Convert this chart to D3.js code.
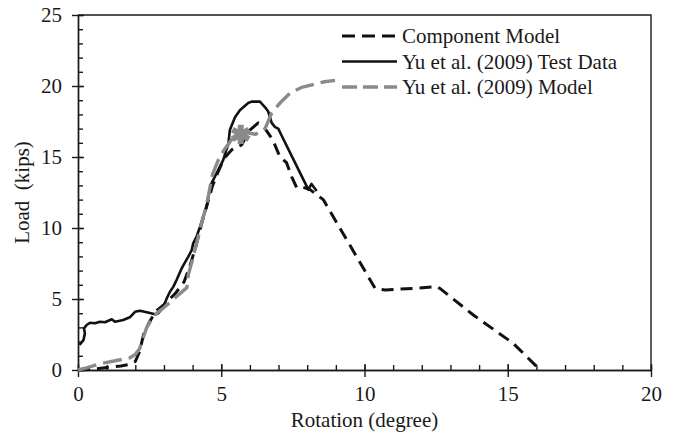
<!DOCTYPE html>
<html>
<head>
<meta charset="utf-8">
<script src="https://cdn.jsdelivr.net/npm/d3@7"></script>
<style>
    body { margin: 0; background: #ffffff; }
    svg text { font-family: 'Liberation Serif', 'Times New Roman', Times, serif; }
</style>
</head>
<body>
<div id="graph"></div>
<script>

// Component Model (black dashed)
var compRot  = [ 0, 0.5, 1.0, 1.5, 1.8, 2.0, 2.15, 2.3, 2.5, 2.7, 3.0, 3.4, 3.7, 3.9, 4.1, 4.3, 4.5, 4.7, 4.9, 5.1, 5.36, 5.71,
                 6.0, 6.29, 6.53, 6.8, 7.05, 7.28, 7.46, 7.63, 7.8, 8.1, 8.56, 10.37, 10.72, 11.7, 12.52, 12.63, 13.8, 15.19, 16.07, 16.13 ];
var compLoad = [ 0, 0.05, 0.17, 0.28, 0.4, 0.6, 1.3, 2.6, 3.4, 4.1, 4.6, 5.4, 6.2, 7.3, 8.6, 10.2, 11.6, 13.0, 14.0, 14.9, 15.5, 15.85,
                 16.9, 17.4, 17.0, 16.2, 15.0, 14.6, 13.6, 12.85, 12.9, 12.7, 12.0, 5.75, 5.63, 5.75, 5.87, 5.75, 3.87, 1.88, 0.12, 0 ];

// Yu et al. (2009) Test Data (black solid)
var testRot  = [ 0.05, 0.19, 0.24, 0.21, 0.3, 0.42, 0.59, 0.77, 0.94, 1.18, 1.29, 1.58, 1.81, 1.99, 2.16, 2.4, 2.69, 2.8, 2.98,
                 3.1, 3.21, 3.33, 3.44, 3.62, 3.68, 3.85, 3.97, 4.02, 4.14, 4.26, 4.37, 4.49, 4.55, 4.67, 4.9, 5.07, 5.25, 5.3,
                 5.48, 5.65, 5.94, 6.06, 6.35, 6.53, 6.64, 6.76, 6.88, 6.99, 7.11, 7.6, 8.04, 8.15, 8.33 ];
var testLoad = [ 1.76, 2.1, 2.58, 2.93, 3.17, 3.33, 3.29, 3.4, 3.36, 3.57, 3.4, 3.52, 3.71, 4.1, 4.18, 4.06, 3.92, 3.99, 4.46,
                 5.05, 5.51, 5.87, 6.34, 7.16, 7.39, 7.98, 8.45, 8.92, 9.39, 10.09, 10.8, 11.5, 12.2, 13.2, 14.1, 14.8, 15.96, 16.9,
                 17.8, 18.3, 18.8, 18.9, 18.9, 18.5, 18.2, 17.4, 17.1, 17.0, 16.5, 14.5, 12.7, 13.1, 12.6 ];

// Yu et al. (2009) Model (grey long dash)
var yuRot  = [ 0, 0.3, 0.8, 1.3, 1.8, 2.0, 2.15, 2.28, 2.4, 2.55, 2.75, 3.0, 3.4, 3.8, 3.85, 4.0, 4.15, 4.32, 4.49, 4.6, 4.7,
               4.9, 5.1, 5.35, 5.6, 5.9, 6.2, 6.53, 6.76, 7.05, 7.4, 7.8, 8.2, 8.6, 8.97 ];
var yuLoad = [ 0, 0.15, 0.45, 0.65, 0.85, 1.1, 1.5, 2.3, 3.0, 3.5, 4.0, 4.4, 5.1, 5.8, 6.7, 7.8, 9.0, 10.4, 11.6, 12.8, 13.8,
               14.8, 15.5, 16.2, 16.6, 16.7, 16.6, 17.0, 18.1, 18.8, 19.5, 19.9, 20.1, 20.3, 20.4 ];

// failure marker
var starRot  = [ 5.68 ];
var starLoad = [ 16.6 ];

var xTicks = [ 0, 5, 10, 15, 20 ];
var yTicks = [ 0, 5, 10, 15, 20, 25 ];

var seriesNames = [ 'Component Model', 'Yu et al. (2009) Test Data', 'Yu et al. (2009) Model' ];


function D3App ()
{
    var margin = { top: 15, right: 22, bottom: 74, left: 78 };

    var width  = 673 - margin.left - margin.right;
    var height = 444 - margin.top - margin.bottom;

    var grey = '#8a8a8a';
    var font = "'Liberation Serif', 'Times New Roman', Times, serif";

    var svg = d3.select ('#graph').append ('svg')
                .attr ('width', 673)
                .attr ('height', 444)
                .append ('g')
                .attr ('transform', 'translate(' + margin.left + ',' + margin.top + ')');

    var xScale = d3.scaleLinear ().domain ([ 0, 20 ]).range ([ 0, width ]);
    var yScale = d3.scaleLinear ().domain ([ 0, 25 ]).range ([ height, 0 ]);

    // minor ticks (inside)
    svg.append ('g')
       .attr ('class', 'axis')
       .attr ('transform', 'translate(0,' + height + ')')
       .call (d3.axisBottom (xScale).tickValues (d3.range (0, 21)).tickSize (-5).tickSizeOuter (0).tickFormat (''));

    svg.append ('g')
       .attr ('class', 'axis')
       .call (d3.axisLeft (yScale).tickValues (d3.range (0, 26)).tickSize (-5).tickSizeOuter (0).tickFormat (''));

    // major ticks, crossing the axis, with labels
    var xAxis = svg.append ('g')
       .attr ('class', 'axis')
       .attr ('transform', 'translate(0,' + height + ')')
       .call (d3.axisBottom (xScale).tickValues (xTicks).tickSize (7).tickSizeOuter (0).tickPadding (9));
    xAxis.selectAll ('.tick line').attr ('y1', -6);

    var yAxis = svg.append ('g')
       .attr ('class', 'axis')
       .call (d3.axisLeft (yScale).tickValues (yTicks).tickSize (6).tickSizeOuter (0).tickPadding (10));
    yAxis.selectAll ('.tick line').attr ('x1', 6);

    svg.selectAll ('.axis').attr ('font-family', font);

    svg.selectAll ('.axis text')
       .attr ('font-family', font)
       .attr ('font-size', '21px')
       .attr ('fill', '#1a1a1a');

    svg.selectAll ('.axis line, .axis path')
       .attr ('stroke', '#1a1a1a')
       .attr ('stroke-width', 1.4);

    // frame: top and right edges
    svg.append ('path')
       .attr ('d', 'M0,0H' + width + 'V' + height)
       .attr ('fill', 'none')
       .attr ('stroke', '#1a1a1a')
       .attr ('stroke-width', 1.4);

    // axis titles
    svg.append ('text')
       .attr ('x', width / 2)
       .attr ('y', height + 57)
       .attr ('text-anchor', 'middle')
       .attr ('font-family', font)
       .attr ('font-size', '21px')
       .attr ('fill', '#1a1a1a')
       .text ('Rotation (degree)');

    svg.append ('text')
       .attr ('transform', 'translate(' + (29 - margin.left) + ',' + (height / 2) + ') rotate(-90)')
       .attr ('text-anchor', 'middle')
       .attr ('font-family', font)
       .attr ('font-size', '21px')
       .attr ('fill', '#1a1a1a')
       .style ('white-space', 'pre')
       .text ('Load  (kips)');

    var line = d3.line ()
                 .x (function (d) { return xScale (d[0]); })
                 .y (function (d) { return yScale (d[1]); });

    var series = [
        { rot: compRot, load: compLoad, colour: '#111', width: 3,   dash: '12,7' },
        { rot: testRot, load: testLoad, colour: '#111', width: 2.6, dash: null },
        { rot: yuRot,   load: yuLoad,   colour: grey,   width: 3.4, dash: '19,7' }
    ];

    for (var i = 0; i < series.length; i++)
    {
        var s = series[i];
        var pts = s.rot.map (function (r, j) { return [ r, s.load[j] ]; });

        svg.append ('path')
           .datum (pts)
           .attr ('d', line)
           .attr ('fill', 'none')
           .attr ('stroke', s.colour)
           .attr ('stroke-width', s.width)
           .attr ('stroke-linejoin', 'round')
           .attr ('stroke-dasharray', s.dash);

        // legend
        var ly = 21 + i * 25.5;
        svg.append ('line')
           .attr ('x1', 264)
           .attr ('x2', 319)
           .attr ('y1', ly)
           .attr ('y2', ly)
           .attr ('stroke', s.colour)
           .attr ('stroke-width', s.width)
           .attr ('stroke-dasharray', i == 0 ? '13,7' : (i == 2 ? '15,6' : null));

        svg.append ('text')
           .attr ('x', 324)
           .attr ('y', ly + 7)
           .attr ('font-family', font)
           .attr ('font-size', '21px')
           .attr ('fill', '#1a1a1a')
           .text (seriesNames[i]);
    }

    // grey asterisk at the failure point
    svg.selectAll ('.star')
       .data (starRot)
       .enter ()
       .append ('path')
       .attr ('class', 'star')
       .attr ('transform', function (d, i) { return 'translate(' + xScale (d) + ',' + yScale (starLoad[i]) + ')'; })
       .attr ('d', d3.symbol (d3.symbolAsterisk, 260))
       .attr ('fill', 'none')
       .attr ('stroke', grey)
       .attr ('stroke-width', 6);

} // D3App

D3App ();
</script>
</body>
</html>
